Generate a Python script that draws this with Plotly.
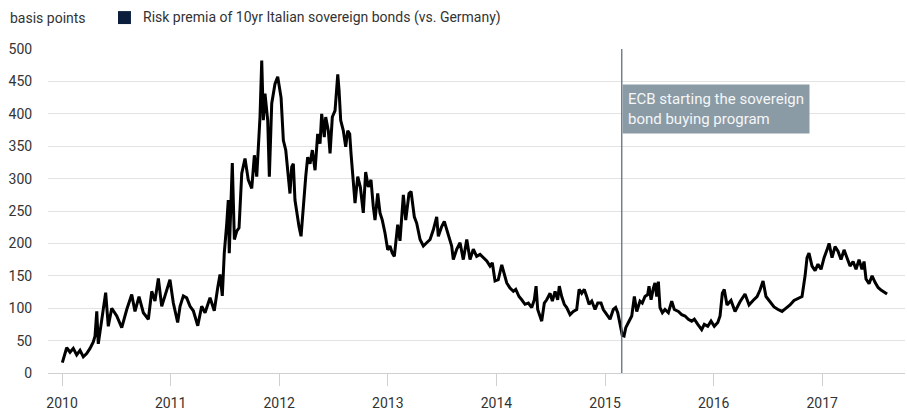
import plotly.graph_objects as go

# decimal years
years = [
    2010.003, 2010.021, 2010.043, 2010.074, 2010.104, 2010.135, 2010.166, 2010.196, 2010.227, 2010.258,
    2010.288, 2010.304, 2010.320, 2010.334, 2010.366, 2010.402, 2010.426, 2010.458, 2010.504, 2010.550,
    2010.596, 2010.642, 2010.672, 2010.709, 2010.749, 2010.795, 2010.826, 2010.856, 2010.887, 2010.918,
    2010.948, 2010.994, 2011.025, 2011.065, 2011.087, 2011.117, 2011.148, 2011.179, 2011.209, 2011.250,
    2011.286, 2011.317, 2011.363, 2011.402, 2011.434, 2011.455, 2011.476, 2011.494, 2011.517, 2011.531,
    2011.540, 2011.556, 2011.568, 2011.587, 2011.609, 2011.630, 2011.655, 2011.685, 2011.715, 2011.747,
    2011.771, 2011.793, 2011.823, 2011.839, 2011.854, 2011.869, 2011.894, 2011.909, 2011.931, 2011.961,
    2011.986, 2012.017, 2012.038, 2012.060, 2012.084, 2012.099, 2012.115, 2012.130, 2012.145, 2012.161,
    2012.182, 2012.201, 2012.222, 2012.244, 2012.262, 2012.284, 2012.305, 2012.330, 2012.354, 2012.376,
    2012.391, 2012.415, 2012.428, 2012.452, 2012.468, 2012.489, 2012.514, 2012.539, 2012.551, 2012.566,
    2012.590, 2012.612, 2012.631, 2012.649, 2012.661, 2012.682, 2012.698, 2012.723, 2012.747, 2012.774,
    2012.796, 2012.820, 2012.845, 2012.866, 2012.882, 2012.907, 2012.928, 2012.949, 2012.974, 2012.999,
    2013.020, 2013.041, 2013.060, 2013.091, 2013.112, 2013.143, 2013.165, 2013.195, 2013.214, 2013.244,
    2013.266, 2013.297, 2013.327, 2013.358, 2013.389, 2013.419, 2013.450, 2013.465, 2013.496, 2013.520,
    2013.557, 2013.588, 2013.603, 2013.634, 2013.665, 2013.695, 2013.727, 2013.757, 2013.787, 2013.818,
    2013.849, 2013.879, 2013.911, 2013.941, 2013.962, 2013.987, 2014.017, 2014.049, 2014.073, 2014.095,
    2014.125, 2014.156, 2014.178, 2014.208, 2014.233, 2014.263, 2014.294, 2014.325, 2014.349, 2014.365,
    2014.380, 2014.401, 2014.417, 2014.441, 2014.463, 2014.494, 2014.515, 2014.540, 2014.564, 2014.579,
    2014.601, 2014.625, 2014.647, 2014.678, 2014.708, 2014.739, 2014.761, 2014.785, 2014.809, 2014.831,
    2014.853, 2014.878, 2014.908, 2014.933, 2014.963, 2014.984, 2015.016, 2015.046, 2015.076, 2015.098,
    2015.117, 2015.138, 2015.159, 2015.175, 2015.191, 2015.215, 2015.246, 2015.270, 2015.292, 2015.322,
    2015.343, 2015.368, 2015.393, 2015.405, 2015.424, 2015.445, 2015.460, 2015.476, 2015.491, 2015.506,
    2015.528, 2015.552, 2015.583, 2015.614, 2015.638, 2015.675, 2015.706, 2015.737, 2015.767, 2015.798,
    2015.822, 2015.854, 2015.890, 2015.914, 2015.946, 2015.976, 2016.006, 2016.038, 2016.059, 2016.080,
    2016.098, 2016.123, 2016.160, 2016.197, 2016.243, 2016.289, 2016.326, 2016.363, 2016.400, 2016.427,
    2016.455, 2016.482, 2016.519, 2016.556, 2016.593, 2016.630, 2016.667, 2016.703, 2016.740, 2016.777,
    2016.814, 2016.842, 2016.860, 2016.878, 2016.906, 2016.934, 2016.961, 2016.989, 2017.017, 2017.044,
    2017.063, 2017.090, 2017.118, 2017.145, 2017.173, 2017.201, 2017.228, 2017.256, 2017.284, 2017.311,
    2017.339, 2017.366, 2017.385, 2017.403, 2017.431, 2017.459, 2017.486, 2017.514, 2017.541, 2017.569,
    2017.597,
]

spread_bp = [
    16, 28, 39, 32, 38, 28, 35, 25, 30, 38,
    48, 57, 95, 45, 83, 124, 72, 100, 88, 70,
    98, 121, 95, 118, 93, 83, 126, 111, 146, 103,
    119, 144, 108, 78, 103, 119, 116, 103, 96, 73,
    103, 93, 116, 96, 132, 152, 119, 185, 231, 267,
    185, 257, 324, 206, 219, 224, 308, 331, 298, 285,
    336, 303, 395, 482, 390, 431, 390, 303, 416, 446,
    457, 425, 359, 344, 303, 277, 318, 323, 267, 247,
    226, 211, 262, 303, 333, 323, 344, 313, 369, 354,
    400, 364, 395, 374, 339, 395, 405, 461, 436, 390,
    374, 349, 374, 369, 339, 293, 262, 303, 287, 247,
    310, 287, 298, 257, 236, 277, 247, 236, 216, 190,
    196, 185, 180, 229, 204, 275, 236, 277, 280, 241,
    231, 206, 196, 201, 206, 221, 241, 211, 226, 234,
    211, 196, 175, 191, 201, 175, 206, 175, 191, 180,
    183, 178, 173, 165, 170, 142, 144, 167, 152, 139,
    131, 126, 129, 118, 113, 106, 108, 101, 113, 134,
    98, 88, 80, 108, 113, 123, 111, 126, 113, 134,
    118, 106, 101, 90, 95, 98, 129, 123, 129, 118,
    106, 111, 98, 108, 108, 98, 90, 83, 98, 101,
    93, 75, 58, 57, 70, 78, 88, 118, 95, 111,
    108, 118, 121, 134, 113, 131, 139, 118, 141, 101,
    93, 98, 93, 111, 98, 95, 90, 88, 83, 80,
    83, 75, 67, 75, 72, 80, 72, 78, 88, 123,
    129, 105, 112, 95, 110, 122, 105, 112, 118, 128,
    142, 118, 110, 102, 98, 95, 100, 105, 112, 115,
    118, 150, 178, 185, 165, 158, 168, 160, 178, 190,
    200, 178, 195, 188, 175, 190, 178, 165, 172, 160,
    175, 160, 172, 145, 138, 150, 140, 132, 128, 125,
    122,
]

tick_years = [2010, 2011, 2012, 2013, 2014, 2015, 2016, 2017]
tick_labels = ["2010", "2011", "2012", "2013", "2014", "2015", "2016", "2017"]
y_ticks = [0, 50, 100, 150, 200, 250, 300, 350, 400, 450, 500]

ecb_start = 2015.154
unit_label = "basis points"
series_name = "Risk premia of 10yr Italian sovereign bonds (vs. Germany)"
ecb_text = "ECB starting the sovereign<br>bond buying program"

FONT = "Roboto, 'Noto Sans', Arial, sans-serif"
GRID = "#e3e3e3"
TXT = "#333333"

fig = go.Figure()
fig.add_trace(go.Scatter(
    x=years, y=spread_bp, mode="lines",
    line=dict(color="#000000", width=3, shape="linear"),
    showlegend=False, hoverinfo="x+y",
))

fig.update_layout(
    width=907, height=412,
    margin=dict(l=48, r=2, t=49, b=39),
    paper_bgcolor="white", plot_bgcolor="white",
    font=dict(family=FONT, size=14, color=TXT),
    xaxis=dict(
        range=[2009.871, 2017.762],
        tickmode="array", tickvals=tick_years, ticktext=tick_labels,
        showgrid=False, zeroline=False, showline=False,
        ticks="outside", ticklen=12, tickcolor="#d0d0d0", tickwidth=1,
        ticklabelstandoff=5,
        tickfont=dict(size=14, color=TXT),
    ),
    yaxis=dict(
        range=[0, 500],
        tickmode="array", tickvals=y_ticks,
        showgrid=True, gridcolor=GRID, gridwidth=1,
        zeroline=True, zerolinecolor="#d0d0d0", zerolinewidth=1,
        showline=False,
        ticks="outside", ticklen=12, tickcolor="rgba(0,0,0,0)",
        tickfont=dict(size=14, color=TXT),
    ),
    shapes=[
        dict(type="line", xref="x", yref="paper", x0=ecb_start, x1=ecb_start,
             y0=0, y1=1, line=dict(color="#5f707d", width=1.3), layer="above"),
        dict(type="rect", xref="paper", yref="paper",
             x0=0.0817, x1=0.0968, y0=1.077, y1=1.117,
             fillcolor="#0b1f3d", line=dict(width=0)),
    ],
    annotations=[
        dict(text=unit_label, xref="paper", yref="paper", x=-0.0467, y=1.0957,
             xanchor="left", yanchor="middle", showarrow=False,
             font=dict(size=14, color=TXT)),
        dict(text=series_name, xref="paper", yref="paper", x=0.1085, y=1.0957,
             xanchor="left", yanchor="middle", showarrow=False,
             font=dict(size=14, color=TXT)),
        dict(text=ecb_text, xref="x", yref="y", x=ecb_start, y=446,
             xanchor="left", yanchor="top", showarrow=False, align="left",
             bgcolor="#8b9ba6", borderpad=5,
             font=dict(size=15, color="#f4f6f7")),
    ],
)

fig.write_html("out.html")
